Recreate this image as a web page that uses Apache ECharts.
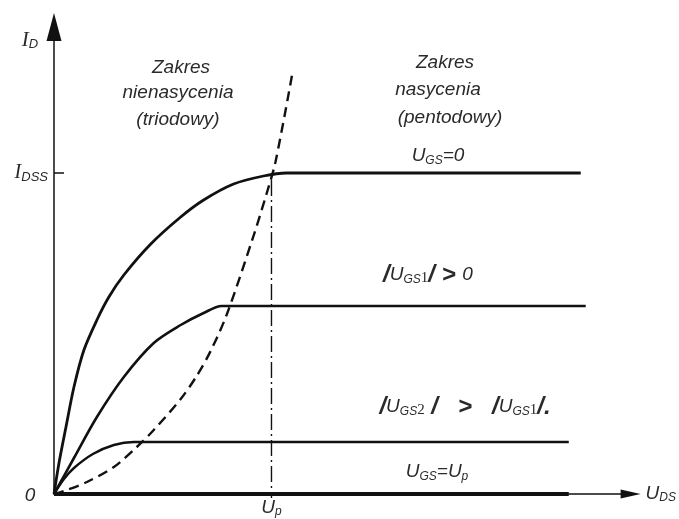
<!DOCTYPE html>
<html>
<head>
<meta charset="utf-8">
<script src="https://cdn.jsdelivr.net/npm/echarts@6/dist/echarts.min.js"></script>
<style>
  html, body { margin: 0; padding: 0; background: #fff; }
  #chart { width: 679px; height: 519px; }
</style>
</head>
<body>
<div id="chart"></div>
<script>
// Output characteristics of a JFET, I_D(U_DS). Units are arbitrary
// (the drawing has no numeric scale).
const xMax = 57.8;
const yMax = 46.7;
const idss = 32.1;     // I_DSS level
const up = 21.8;       // U_p on the U_DS axis

// U_GS = 0
const curveGs0 = [[0, 0], [0.5, 3.1], [1.2, 6.7], [2.0, 10.7], [3.0, 14.4], [4.3, 17.4], [5.5, 19.7],
  [7.0, 21.9], [9.7, 25.0], [12.7, 27.7], [15.0, 29.4], [18.0, 31.0], [21.0, 31.8], [23.3, 32.1], [52.8, 32.1]];
// |U_GS1| > 0
const curveGs1 = [[0, 0], [2.0, 3.6], [4.3, 7.7], [7.0, 11.7], [10.0, 15.1], [12.7, 16.9], [15.0, 18.1],
  [16.8, 18.8], [53.3, 18.8]];
// |U_GS2| > |U_GS1|
const curveGs2 = [[0, 0], [1.0, 1.5], [2.0, 2.6], [3.9, 4.0], [6.0, 4.9], [8.0, 5.2], [51.6, 5.2]];
// U_GS = U_p (I_D = 0)
const curveGsP = [[0, 0], [51.6, 0]];
// boundary between the two regions (dashed)
const boundary = [[0, 0], [1.3, 0.4], [3.3, 1.2], [6.0, 2.7], [8.3, 4.7], [10.0, 6.4], [12.7, 9.5],
  [14.3, 11.8], [15.7, 14.3], [17.3, 17.9], [19.9, 25.5], [21.3, 30.0], [22.2, 33.2], [23.9, 42.1]];
// vertical dash-dot line at U_p
const upLine = [[up, 31.4], [up, -0.4]];

const ink = '#111';
const txt = '#2a2a2a';
const fam = '"Liberation Sans", Arial, sans-serif';
const serif = '"Liberation Serif", "Times New Roman", serif';

const sub = { fontFamily: fam, fontStyle: 'italic', fontSize: 12, color: txt, padding: [9, 0, 0, 0] };
const big = { fontFamily: fam, fontStyle: 'italic', fontSize: 19, color: txt };

function solid(name, data, w) {
  return {
    name, type: 'line', data, symbol: 'none', smooth: 0.3, clip: false,
    lineStyle: { color: ink, width: w }
  };
}

function label(x, y, text, rich, align) {
  return {
    type: 'text', x, y, silent: true,
    style: { text, rich, align: align || 'center', verticalAlign: 'middle', fill: txt,
      font: 'italic 19px ' + fam }
  };
}

const chart = echarts.init(document.getElementById('chart'));
chart.setOption({
  animation: false,
  backgroundColor: '#fff',
  grid: { left: 54, right: 47, top: 27, bottom: 25 },
  xAxis: {
    type: 'value', min: 0, max: xMax,
    axisLine: { lineStyle: { color: ink, width: 1.5 }, symbol: ['none', 'triangle'], symbolSize: [9, 20] },
    axisTick: { show: false },
    splitLine: { show: false },
    axisLabel: {
      customValues: [up], margin: 4,
      formatter: () => '{u|U}{s|p}',
      rich: { u: { ...big, fontSize: 19 }, s: { ...sub, fontSize: 12, padding: [8, 0, 0, 0] } }
    },
    name: '{u|U}{s|DS}', nameGap: 15,
    nameTextStyle: { rich: { u: { ...big, fontSize: 19 }, s: { ...sub, fontSize: 12, padding: [8, 0, 0, 0] } } }
  },
  yAxis: {
    type: 'value', min: 0, max: yMax,
    axisLine: { lineStyle: { color: ink, width: 1.5 }, symbol: ['none', 'triangle'], symbolSize: [15, 28] },
    axisTick: { customValues: [idss], inside: true, length: 10, lineStyle: { color: ink, width: 1.5 } },
    splitLine: { show: false },
    axisLabel: {
      customValues: [idss], margin: 6,
      formatter: () => '{i|I}{s|DSS}',
      rich: { i: { fontFamily: serif, fontStyle: 'italic', fontSize: 20, color: txt },
        s: { ...sub, fontSize: 13, padding: [8, 0, 0, 0] } }
    }
  },
  series: [
    solid('U_GS=0', curveGs0, 2.8),
    solid('|U_GS1|>0', curveGs1, 2.6),
    solid('|U_GS2|>|U_GS1|', curveGs2, 2.4),
    { name: 'U_GS=U_p', type: 'line', data: curveGsP, symbol: 'none', clip: false,
      lineStyle: { color: ink, width: 4 } },
    { name: 'boundary', type: 'line', data: boundary, symbol: 'none', smooth: 0.3, clip: false,
      lineStyle: { color: ink, width: 2.4, type: [10, 6] } },
    { name: 'U_p', type: 'line', data: upLine, symbol: 'none', clip: false,
      lineStyle: { color: ink, width: 1.4, type: [16, 4, 2, 4] } }
  ],
  graphic: [
    label(30, 40, '{i|I}{s|D}', { i: { fontFamily: serif, fontStyle: 'italic', fontSize: 21, color: txt },
      s: { ...sub, fontSize: 13, padding: [8, 0, 0, 0] } }),
    label(30, 496, '0', { }),
    label(181, 68, 'Zakres'),
    label(178, 93, 'nienasycenia'),
    label(178, 120, '(triodowy)'),
    label(445, 63, 'Zakres'),
    label(438, 90, 'nasycenia'),
    label(450, 118, '(pentodowy)'),
    label(438, 156, '{u|U}{s|GS}{u|=0}', { u: big, s: sub }),
    label(428, 275, '{b|/}{u|U}{s|GS}{n|1}{b|/ > }{u|0}', {
      b: { fontFamily: fam, fontStyle: 'italic', fontWeight: 'bold', fontSize: 24, color: '#000' },
      u: big, s: sub, n: { fontFamily: serif, fontSize: 15, color: txt, padding: [7, 0, 0, 0] } }),
    label(465, 407, '{b|/}{u|U}{s|GS}{n|2}{b| /   >   /}{u|U}{s|GS}{n|1}{b|/.}', {
      b: { fontFamily: fam, fontStyle: 'italic', fontWeight: 'bold', fontSize: 24, color: '#000' },
      u: big, s: sub, n: { fontFamily: serif, fontSize: 15, color: txt, padding: [7, 0, 0, 0] } }),
    label(437, 472, '{u|U}{s|GS}{u|=U}{s|p}', { u: big, s: sub })
  ]
});
</script>
</body>
</html>
